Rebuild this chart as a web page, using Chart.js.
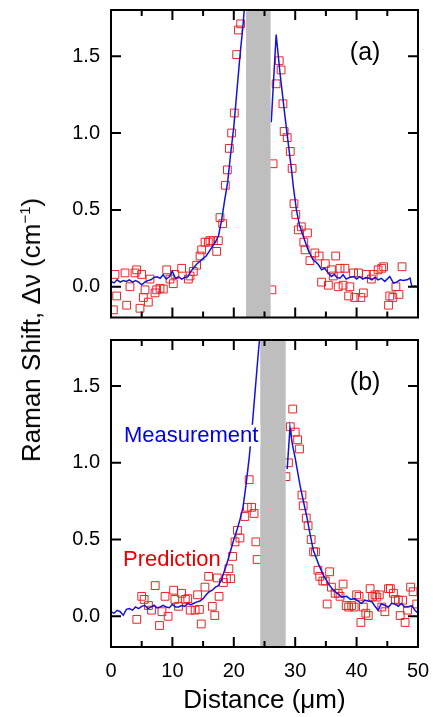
<!DOCTYPE html>
<html><head><meta charset="utf-8">
<script src="https://cdn.jsdelivr.net/npm/chart.js@4"></script>
<style>
html,body{margin:0;padding:0;background:#fff;}
body{width:433px;height:717px;position:relative;overflow:hidden;font-family:"Liberation Sans",Arial,sans-serif;}
canvas{position:absolute;left:0;}
#cA{top:0;} #cB{top:330px;}
#ytitle{position:absolute;left:31px;top:330px;transform:translate(-50%,-50%) rotate(-90deg);white-space:nowrap;font-size:26px;line-height:26px;color:#000;}
#ytitle sup{font-size:15px;line-height:0;vertical-align:10px;}
</style></head><body>
<canvas id="cA" width="433" height="325"></canvas>
<canvas id="cB" width="433" height="387"></canvas>
<div id="ytitle">Raman Shift, Δν (cm<sup>−1</sup>)</div>
<script>
// ---- tick values ----
const xTickValues = [0,5,10,15,20,25,30,35,40,45,50];
const xLabelValues = [0,10,20,30,40,50];
const yTickValues = [0,0.5,1.0,1.5];

// ---- excluded (grey) bands, µm ----
const bandA = [22.0, 26.0];
const bandB = [24.3, 28.45];

// ---- panel (a): measurement (left / right of band) ----
const measALeftX = [0,0.5,1,1.5,2,2.5,3,3.5,4,4.5,5,5.5,6,6.5,7,7.5,8,8.5,9,9.5,10,10.5,11,11.5,12,12.5,13,13.5,14,14.5,15,15.5,16,16.5,17,17.5,18,18.5,19,19.5,20,20.5,21,21.5,21.9];
const measALeftY = [0.035,0.025,0.045,0.03,0.04,0.035,0.045,0.03,0.04,0.03,0.013,0.03,0.04,0.045,0.06,0.065,0.055,0.078,0.05,0.065,0.1,0.055,0.065,0.05,0.06,0.065,0.1,0.125,0.15,0.165,0.185,0.2,0.23,0.26,0.29,0.33,0.43,0.56,0.68,0.87,1.04,1.27,1.50,1.70,1.9];
const measARightX = [26.1,26.9,27.5,28.3,29.15,29.4,29.7,30.2,30.7,31.3,32.1,32.9,33.4,33.8,34.3,34.8,35.4,35.9,36.4,36.8,37.3,37.8,38.3,38.8,39.5,40,40.5,41,41.5,42,42.5,43,43.5,44,44.6,45.4,46,46.5,47.1,47.6,48.2,48.7,49,49.5,50];
const measARightY = [1.07,1.64,1.40,1.12,0.84,0.76,0.65,0.5,0.4,0.33,0.24,0.175,0.16,0.143,0.11,0.12,0.09,0.067,0.08,0.06,0.056,0.078,0.05,0.06,0.067,0.05,0.065,0.05,0.06,0.055,0.045,0.06,0.045,0.055,0.035,0.067,0.024,0.03,0.045,0.04,0.045,0.056,0.002,0.005,0.0];

// ---- panel (a): prediction ----
const predAX = [0.38,0.65,0.92,2.28,2.55,3.09,3.91,4.18,4.72,4.99,5.27,5.54,6.08,6.35,7.17,7.44,7.98,8.52,9.07,9.61,10.15,10.42,11.51,12.6,12.87,13.41,13.95,14.5,14.77,15.31,15.85,16.12,16.67,17.21,17.48,17.75,18.19,18.62,18.95,19.27,19.65,20.08,20.47,20.74,21.12,
  26.2,26.4,26.9,27.4,27.7,28.0,28.2,28.7,29.2,29.5,29.8,30.1,30.5,31.0,31.4,31.6,32.0,32.4,33.2,33.9,34.3,34.9,35.4,35.9,36.2,36.6,37.0,37.3,37.8,38.1,38.7,38.9,39.5,39.7,40.3,40.7,41.1,41.6,42.4,42.7,43.5,44.1,44.4,45.2,45.4,45.9,46.4,46.9,47.4];
const predAY = [-0.15,0.08,-0.06,0.09,-0.12,0.0,0.09,0.11,-0.14,0.08,-0.07,-0.02,-0.1,0.05,-0.04,-0.02,-0.01,-0.015,0.11,0.05,0.02,0.08,0.12,0.05,0.07,0.1,0.14,0.2,0.24,0.29,0.29,0.3,0.3,0.23,0.3,0.45,0.41,0.66,0.76,0.9,1.0,1.13,1.51,1.67,1.71,
  -0.02,0.8,1.32,1.47,1.41,1.19,1.01,0.97,0.88,0.77,0.54,0.47,0.37,0.39,0.29,0.24,0.35,0.17,0.22,0.2,0.03,0.15,0.01,0.11,0.07,0.2,0.0,0.12,0.01,0.12,-0.06,0.0,0.09,-0.07,0.09,-0.07,-0.04,0.08,0.05,0.08,0.11,0.12,0.13,-0.12,-0.06,-0.07,0.0,-0.05,0.13];

// ---- panel (b): measurement ----
const measBLeftX = [0,0.5,1,1.5,2,2.5,3,3.5,4,4.5,5,5.5,6,6.5,7,7.5,8,8.5,9,9.5,10,10.5,11,11.5,12,12.5,13,13.5,14,14.5,15,15.5,16,16.5,17,17.5,18,18.5,19,19.5,20,20.5,21,21.5,22,22.5,23,23.5,24,24.3];
const measBLeftY = [0.028,0.02,0.039,0.03,0.007,0.045,0.05,0.04,0.061,0.05,0.065,0.072,0.05,0.06,0.072,0.055,0.061,0.072,0.06,0.056,0.078,0.06,0.061,0.07,0.065,0.083,0.075,0.085,0.094,0.1,0.115,0.14,0.16,0.17,0.19,0.2,0.24,0.3,0.36,0.43,0.5,0.56,0.63,0.71,0.86,1.03,1.24,1.48,1.72,1.85];
const measBRightX = [28.7,29.15,29.5,30,30.8,31.3,31.9,32.4,32.95,33.8,34.6,35.4,36.2,37,37.6,38.4,39,39.6,40.2,40.8,41.3,41.9,42.5,43,43.5,44,44.6,45.2,45.7,46.3,46.8,47.3,47.8,48.4,49,49.5,50];
const measBRightY = [0.96,1.23,1.13,1.03,0.85,0.756,0.647,0.54,0.43,0.34,0.267,0.213,0.17,0.145,0.125,0.13,0.11,0.115,0.1,0.083,0.105,0.1,0.095,0.065,0.039,0.08,0.072,0.06,0.085,0.078,0.065,0.083,0.06,0.061,0.07,0.039,0.02];

// ---- panel (b): prediction ----
const predBX = [4.2,5.0,5.4,6.1,6.6,7.2,7.9,8.3,8.8,9.3,10.2,10.4,11.0,11.5,12.1,12.5,12.9,13.7,14.1,14.4,14.7,15.3,15.9,16.5,16.9,17.3,17.6,18.3,18.8,19.2,19.5,19.8,20.2,20.6,21.0,21.8,22.2,22.5,22.9,23.3,23.6,23.8,
  28.5,28.9,29.2,29.6,30.0,30.4,30.7,31.1,31.3,31.8,32.1,32.6,33.0,33.3,33.7,34.0,34.5,34.9,35.2,35.6,35.9,36.5,37.0,37.3,37.8,38.3,38.7,39.2,39.6,40.0,40.4,40.7,41.1,41.5,41.9,42.2,42.6,43.0,43.3,43.7,44.1,44.6,45.2,45.5,46.0,46.3,46.8,47.1,47.5,47.9,48.3,48.8,49.2,49.8];
const predBY = [-0.02,0.13,0.11,0.07,0.04,0.2,-0.06,0.03,0.13,0.0,0.17,0.11,0.065,0.15,0.11,0.115,0.04,0.04,0.14,0.045,-0.05,0.19,0.26,0.065,0.005,0.25,0.13,0.22,0.245,0.31,0.245,0.39,0.485,0.56,0.51,0.65,0.71,0.89,0.71,0.67,0.485,0.37,
  0.91,1.0,1.235,1.35,1.2,1.15,1.09,0.79,0.72,0.64,0.59,0.5,0.42,0.42,0.3,0.26,0.23,0.23,0.08,0.29,0.19,0.15,0.15,0.13,0.21,0.07,0.06,0.07,0.06,0.14,0.13,-0.04,0.06,0.02,0.005,0.18,0.13,0.14,0.125,0.14,0.06,0.03,0.18,0.18,0.15,0.11,0.105,0.005,0.105,-0.04,0.04,0.19,0.16,0.08];

const FONT = '"Liberation Sans", Arial, sans-serif';
const BLUE = '#1414d8';
const RED = 'rgb(232,36,36)';
const pts = (xs, ys) => xs.map((x, i) => ({x, y: ys[i]}));

const panelPlugin = {
  id: 'panel',
  afterDatasetsDraw(chart, args, opts) {
    const {ctx, chartArea: ca, scales: {x, y}} = chart;
    ctx.save();
    const bx0 = x.getPixelForValue(opts.band[0]), bx1 = x.getPixelForValue(opts.band[1]);
    ctx.fillStyle = '#bebebe';
    ctx.fillRect(bx0, ca.top, bx1 - bx0, ca.bottom - ca.top);
    for (const l of opts.labels) {
      ctx.font = l.size + 'px ' + FONT;
      ctx.textAlign = 'left'; ctx.textBaseline = 'alphabetic';
      const px = x.getPixelForValue(l.x), py = y.getPixelForValue(l.y);
      if (l.bg) {
        const w = ctx.measureText(l.text).width;
        ctx.fillStyle = '#fff';
        ctx.fillRect(px - 2, py - l.size * 0.78, w + 4, l.size * 0.98);
      }
      ctx.fillStyle = l.color;
      ctx.fillText(l.text, px, py);
    }
    ctx.strokeStyle = '#000'; ctx.lineWidth = 2;
    ctx.strokeRect(ca.left, ca.top, ca.right - ca.left, ca.bottom - ca.top);
    ctx.beginPath();
    for (const t of x.ticks) {
      const px = x.getPixelForValue(t.value);
      const len = xLabelValues.includes(t.value) ? 10 : 6;
      ctx.moveTo(px, ca.bottom); ctx.lineTo(px, ca.bottom - len);
      ctx.moveTo(px, ca.top); ctx.lineTo(px, ca.top + len);
    }
    for (const t of y.ticks) {
      const py = y.getPixelForValue(t.value);
      ctx.moveTo(ca.left, py); ctx.lineTo(ca.left + 10, py);
      ctx.moveTo(ca.right, py); ctx.lineTo(ca.right - 10, py);
    }
    ctx.stroke();
    ctx.restore();
  }
};

function lineDs(xs, ys) {
  return {data: pts(xs, ys), showLine: true, borderColor: BLUE, borderWidth: 1.5, pointRadius: 0, tension: 0};
}
function predDs(xs, ys) {
  return {data: pts(xs, ys), showLine: false, pointStyle: 'rect', pointRadius: 5.5, borderWidth: 1, borderColor: RED, backgroundColor: 'rgba(0,0,0,0)'};
}

function zeroPad(s) { s.paddingTop = 0; s.paddingBottom = 0; s.paddingLeft = 0; s.paddingRight = 0; }

function makeChart(id, datasets, band, labels, showX) {
  return new Chart(document.getElementById(id), {
    type: 'scatter',
    data: {datasets},
    options: {
      responsive: false, animation: false, devicePixelRatio: 1,
      layout: {padding: {top: 10, right: 15, left: 0, bottom: showX ? 0 : 7.5}},
      plugins: {legend: {display: false}, tooltip: {enabled: false}, panel: {band, labels}},
      scales: {
        x: {
          type: 'linear', min: 0, max: 50,
          grid: {display: false, drawTicks: false}, border: {display: false},
          afterBuildTicks: s => { s.ticks = xTickValues.map(v => ({value: v})); },
          afterFit: s => { s.height = showX ? 70 : 0; zeroPad(s); },
          ticks: {display: showX, padding: 12, autoSkip: false, maxRotation: 0, color: '#000',
                  font: {size: 20, family: FONT},
                  callback: v => xLabelValues.includes(v) ? String(v) : ''},
          title: {display: showX, text: 'Distance (μm)', color: '#000', font: {size: 26, family: FONT},
                  padding: {top: 0, bottom: 1}}
        },
        y: {
          type: 'linear', min: -0.2, max: 1.8,
          grid: {display: false, drawTicks: false}, border: {display: false},
          afterBuildTicks: s => { s.ticks = yTickValues.map(v => ({value: v})); },
          afterFit: s => { s.width = 111; zeroPad(s); },
          ticks: {padding: 11, color: '#000', font: {size: 20, family: FONT},
                  callback: v => Number(v).toFixed(1)}
        }
      }
    },
    plugins: [panelPlugin]
  });
}

makeChart('cA', [
  lineDs(measALeftX, measALeftY),
  lineDs(measARightX, measARightY),
  predDs(predAX, predAY)
], bandA, [
  {text: '(a)', x: 38.9, y: 1.475, size: 25, color: '#000'}
], false);

makeChart('cB', [
  lineDs(measBLeftX, measBLeftY),
  lineDs(measBRightX, measBRightY),
  predDs(predBX, predBY)
], bandB, [
  {text: '(b)', x: 38.9, y: 1.473, size: 25, color: '#000'},
  {text: 'Measurement', x: 2.1, y: 1.136, size: 22, color: '#0000e6', bg: true},
  {text: 'Prediction', x: 1.95, y: 0.33, size: 22, color: '#e60000'}
], true);
</script>
</body></html>
